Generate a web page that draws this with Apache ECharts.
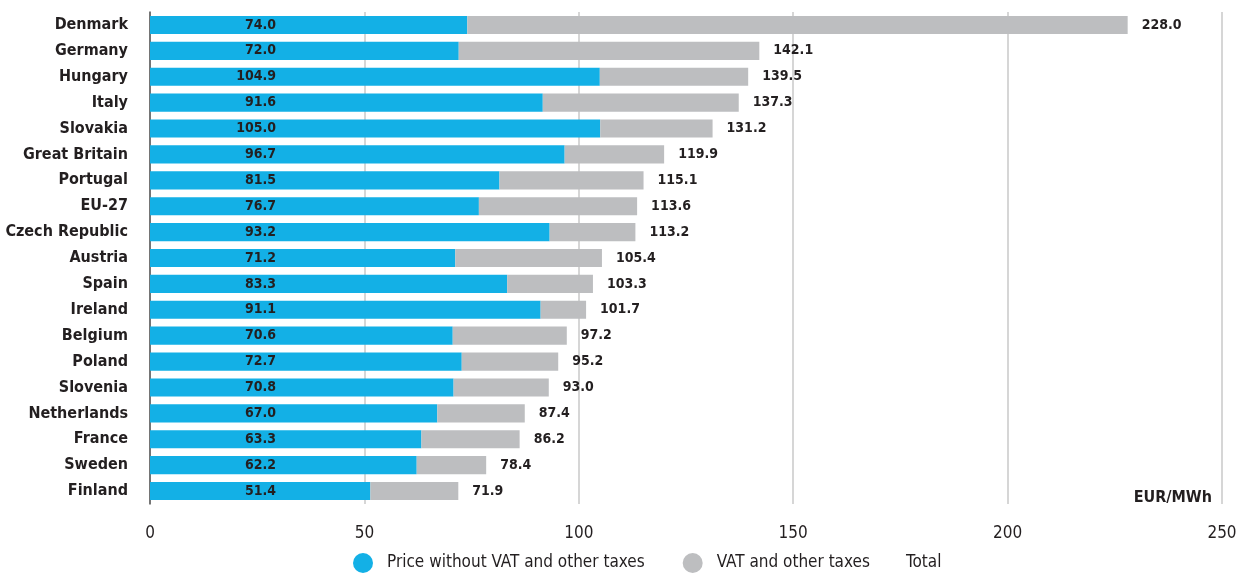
<!DOCTYPE html>
<html>
<head>
<meta charset="utf-8">
<script src="https://cdn.jsdelivr.net/npm/echarts@6/dist/echarts.min.js"></script>
<style>html,body{margin:0;padding:0;background:#fff}#c{width:1243px;height:576px}</style>
</head>
<body>
<div id="c"></div>
<script>
var categories = ["Denmark","Germany","Hungary","Italy","Slovakia","Great Britain","Portugal","EU-27","Czech Republic","Austria","Spain","Ireland","Belgium","Poland","Slovenia","Netherlands","France","Sweden","Finland"];
var priceWithoutVat = [74.0,72.0,104.9,91.6,105.0,96.7,81.5,76.7,93.2,71.2,83.3,91.1,70.6,72.7,70.8,67.0,63.3,62.2,51.4];
var totalPrice = [228.0,142.1,139.5,137.3,131.2,119.9,115.1,113.6,113.2,105.4,103.3,101.7,97.2,95.2,93.0,87.4,86.2,78.4,71.9];
var xTicks = [0,50,100,150,200,250];
var vatAndTaxes = totalPrice.map(function(t,i){ return +(t - priceWithoutVat[i]).toFixed(1); });

var FONT = '"Liberation Sans Narrow","DejaVu Sans Condensed","Roboto",sans-serif';
var chart = echarts.init(document.getElementById('c'));
chart.setOption({
  animation: false,
  textStyle: {fontFamily: FONT},
  grid: {left: 150, right: 21, top: 12, bottom: 72, containLabel: false, outerBoundsMode: 'none'},
  legend: [{
    left: 348, top: 548, itemWidth: 20, itemHeight: 20, itemGap: 38, icon: 'circle',
    textStyle: {fontFamily: FONT, fontSize: 17, color: '#231f20', padding: [0, 0, 0, 9]},
    data: ['Price without VAT and other taxes', 'VAT and other taxes']
  }, {
    left: 867, top: 548, itemWidth: 20, itemHeight: 20, icon: 'circle',
    textStyle: {fontFamily: FONT, fontSize: 17, color: '#231f20', padding: [0, 0, 0, 9]},
    data: [{name: 'Total', itemStyle: {opacity: 0}}]
  }],
  xAxis: {
    type: 'value', min: xTicks[0], max: xTicks[xTicks.length-1], interval: 50,
    axisLine: {show: false}, axisTick: {show: false},
    splitLine: {show: true, lineStyle: {color: '#c8c8c8', width: 1.5}},
    axisLabel: {fontFamily: FONT, fontSize: 17, color: '#231f20', margin: 21}
  },
  yAxis: {
    type: 'category', data: categories, inverse: true,
    axisLine: {show: true, lineStyle: {color: '#555', width: 1.5}},
    axisTick: {show: false},
    axisLabel: {fontFamily: FONT, fontSize: 16, fontWeight: 'bold', color: '#231f20', margin: 22}
  },
  graphic: [{
    type: 'text', right: 31, top: 490,
    style: {text: 'EUR/MWh', font: 'bold 16px ' + FONT, fill: '#231f20'}
  }],
  series: [{
    name: 'Price without VAT and other taxes', type: 'bar', stack: 'p', barWidth: '70%',
    data: priceWithoutVat,
    itemStyle: {color: '#13b0e6'},
    label: {show: true, position: [126, '50%'], align: 'right', verticalAlign: 'middle',
      fontFamily: FONT, fontSize: 14, fontWeight: 'bold', color: '#231f20',
      formatter: function(p){ return p.value.toFixed(1); }}
  }, {
    name: 'VAT and other taxes', type: 'bar', stack: 'p', barWidth: '70%',
    data: vatAndTaxes,
    itemStyle: {color: '#bdbec0'}
  }, {
    name: 'Total', type: 'bar', barWidth: '70%', barGap: '-100%',
    data: totalPrice,
    itemStyle: {color: 'rgba(0,0,0,0)'},
    z: 3,
    label: {show: true, position: 'right', distance: 14,
      fontFamily: FONT, fontSize: 14, fontWeight: 'bold', color: '#231f20',
      formatter: function(p){ return p.value.toFixed(1); }}
  }]
});
</script>
</body>
</html>
